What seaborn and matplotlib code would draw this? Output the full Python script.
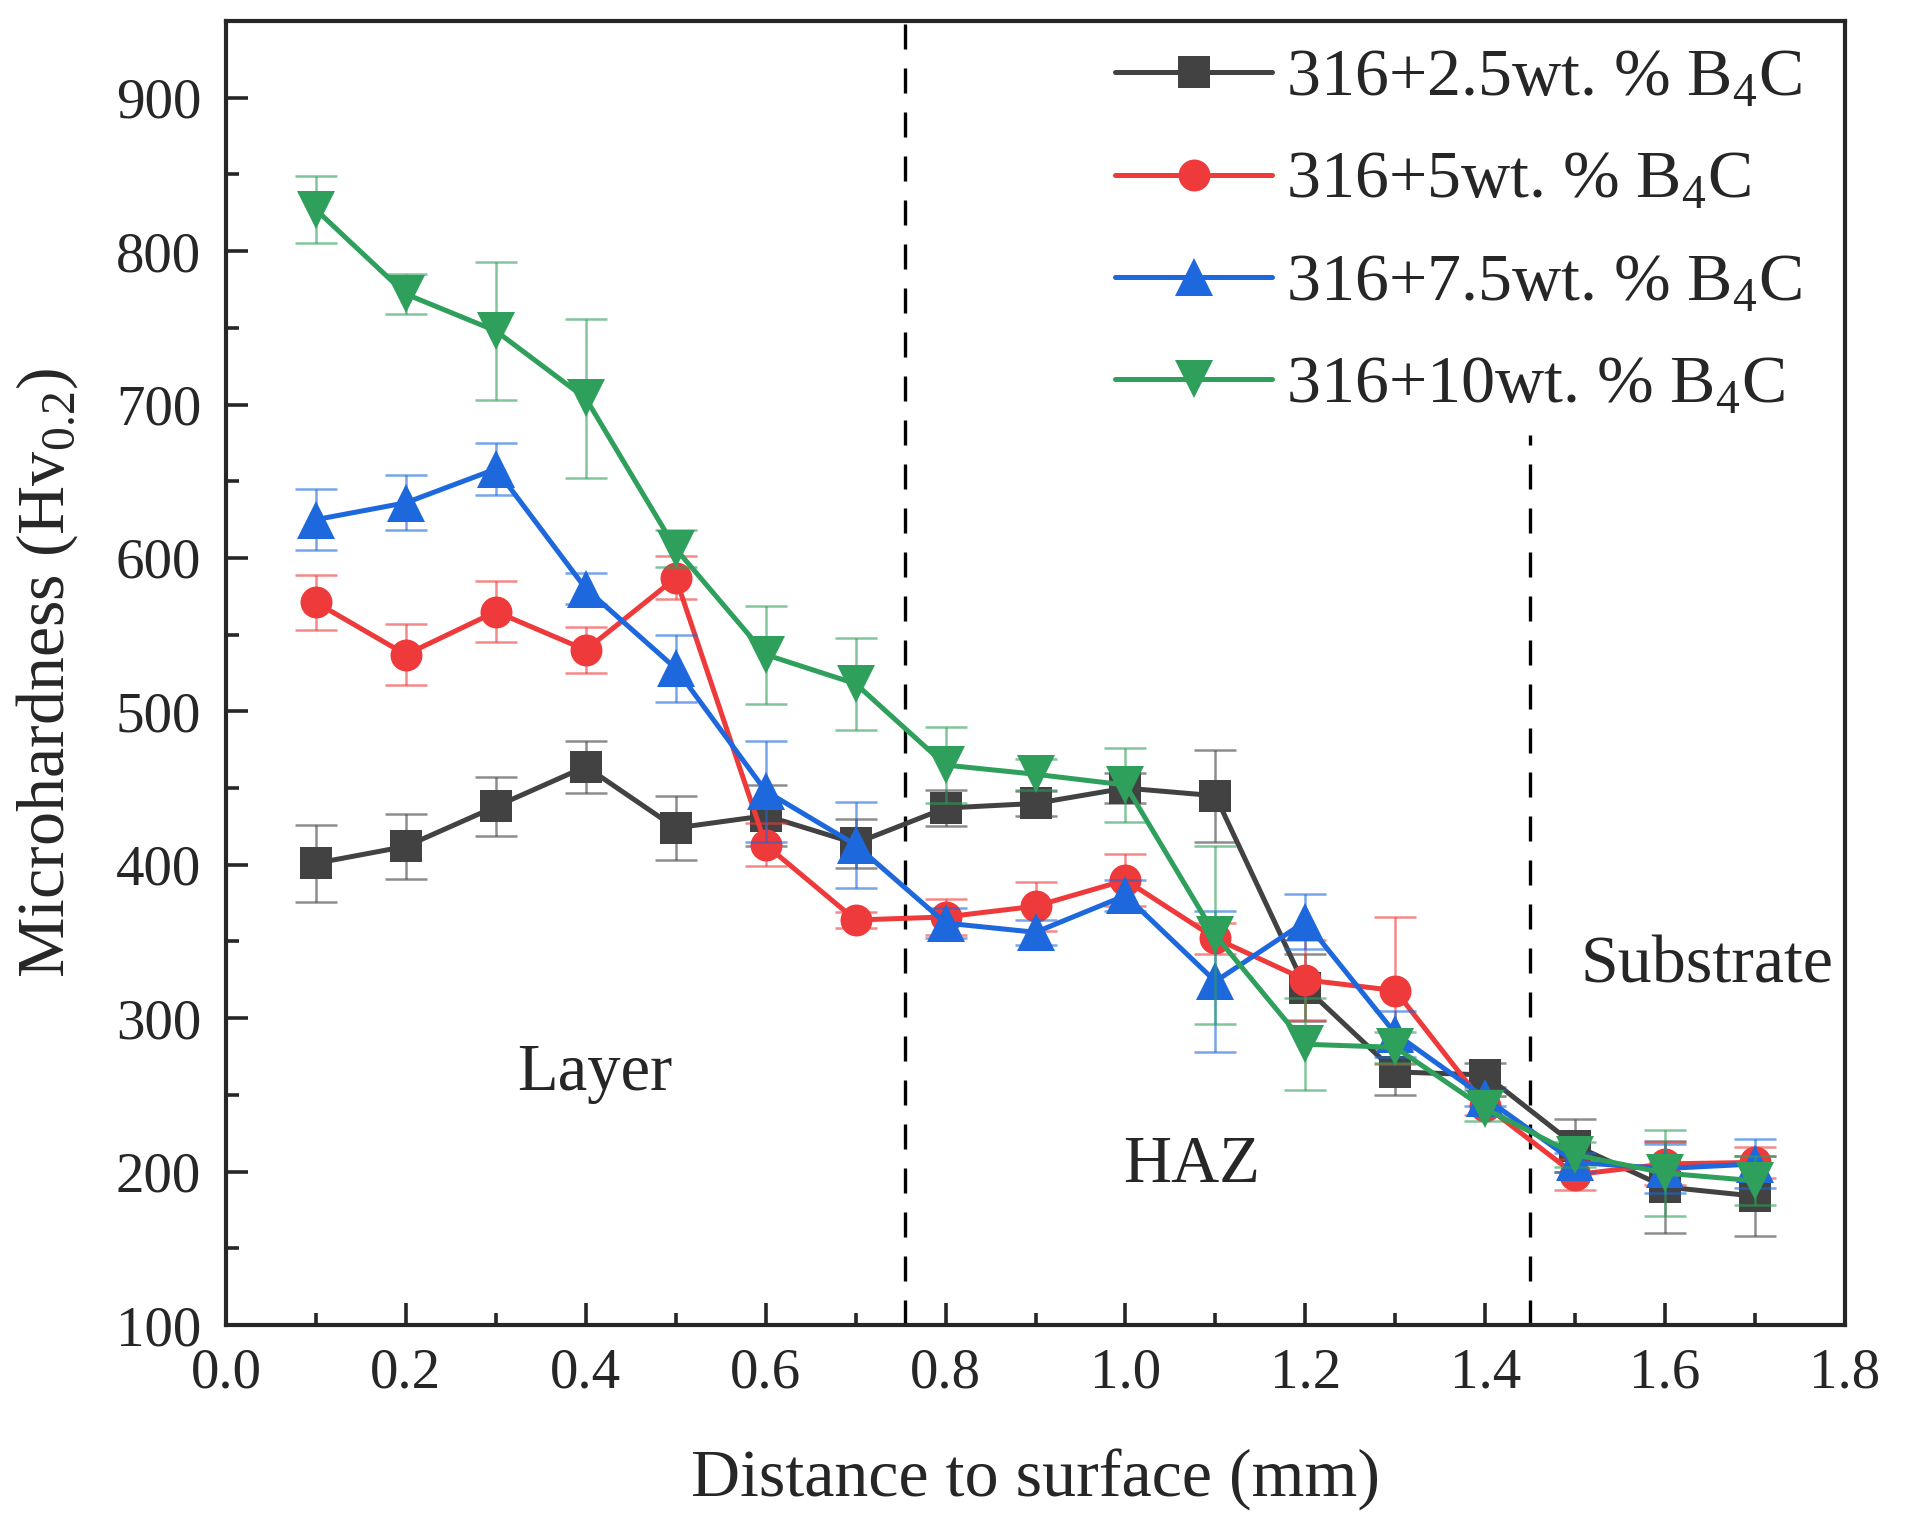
import numpy as np
import pandas as pd
import matplotlib
matplotlib.use("Agg")
import matplotlib.pyplot as plt
import seaborn as sb

# distance to surface (mm)
distance = [0.1, 0.2, 0.3, 0.4, 0.5, 0.6, 0.7, 0.8, 0.9, 1.0, 1.1, 1.2, 1.3, 1.4, 1.5, 1.6, 1.7]

# microhardness values
hv_25 = [401, 412, 438, 464, 424, 432, 414, 437, 440, 450, 445, 320, 265, 263, 217, 190, 184]
hv_5 = [571, 537, 565, 540, 587, 413, 364, 366, 373, 390, 352, 325, 318, 243, 198, 205, 206]
hv_75 = [625, 636, 658, 580, 528, 448, 413, 362, 356, 380, 324, 363, 290, 248, 206, 202, 205]
hv_10 = [827, 772, 748, 704, 606, 537, 518, 465, 459, 452, 354, 283, 281, 241, 211, 199, 194]

# error bars (half-width)
err_25 = [25, 21, 19, 17, 21, 20, 16, 12, 8, 10, 30, 22, 15, 8, 17, 30, 26]
err_5 = [18, 20, 20, 15, 14, 14, 5, 12, 16, 17, 10, 26, 48, 6, 10, 14, 10]
err_75 = [20, 18, 17, 10, 22, 33, 28, 10, 8, 10, 46, 18, 15, 5, 6, 16, 16]
err_10 = [22, 13, 45, 52, 12, 32, 30, 25, 10, 24, 58, 30, 10, 8, 8, 28, 16]

labels = ["316+2.5wt. % B$_\\mathregular{4}$C", "316+5wt. % B$_\\mathregular{4}$C",
          "316+7.5wt. % B$_\\mathregular{4}$C", "316+10wt. % B$_\\mathregular{4}$C"]
colors = ["#424242", "#ee3a3a", "#1c68dc", "#2f9f5c"]
markers = ["s", "o", "^", "v"]

sb.set_style("ticks")
plt.rcParams['font.family'] = ['Liberation Serif', 'DejaVu Serif']
plt.rcParams['mathtext.fontset'] = 'custom'
plt.rcParams['mathtext.rm'] = 'Liberation Serif'

fig = plt.figure(figsize=(19.09, 15.35), dpi=100)
ax = fig.add_axes([0.1184, 0.1368, 0.8481, 0.8495])

series = [hv_25, hv_5, hv_75, hv_10]
errors = [err_25, err_5, err_75, err_10]
for i, (vals, errs) in enumerate(zip(series, errors)):
    df = pd.DataFrame({"Distance": distance, "Hv": vals})
    ax.errorbar(distance, vals, yerr=errs, fmt="none", ecolor=colors[i],
                elinewidth=1.8, capsize=15, capthick=1.8, alpha=0.6, zorder=2 + i)
    sb.lineplot(data=df, x="Distance", y="Hv", color=colors[i], marker=markers[i],
                markersize=27 if markers[i] in ("^", "v") else 23,
                markeredgewidth=0, linewidth=3.6, label=labels[i], ax=ax, zorder=3 + i)

# region boundaries
ax.axvline(0.755, color="black", linestyle=(0, (7.5, 5.7)), linewidth=2.4, zorder=1)
ax.plot([1.45, 1.45], [100, 680], color="black", linestyle=(0, (7.5, 5.7)), linewidth=2.4, zorder=1)

ax.text(0.41, 264, "Layer", fontsize=48, ha="center", va="center")
ax.text(1.074, 204, "HAZ", fontsize=48, ha="center", va="center")
ax.text(1.647, 334, "Substrate", fontsize=49, ha="center", va="center")

ax.set_xlim(0, 1.8)
ax.set_ylim(100, 950)
ax.set_xticks(np.arange(0, 1.81, 0.2))
ax.set_yticks(np.arange(100, 901, 100))
ax.set_xticks(np.arange(0.1, 1.8, 0.2), minor=True)
ax.set_yticks(np.arange(150, 950, 100), minor=True)
ax.xaxis.set_major_formatter(matplotlib.ticker.FormatStrFormatter('%.1f'))
ax.tick_params(axis="both", which="major", direction="in", length=16, width=2.6,
               labelsize=41)
ax.tick_params(axis="x", which="major", pad=16)
ax.tick_params(axis="y", which="major", pad=18)
ax.tick_params(axis="both", which="minor", direction="in", length=9, width=2.6)

for s in ax.spines.values():
    s.set_linewidth(3)

ax.set_xlabel("Distance to surface (mm)", fontsize=49, labelpad=36)
ax.set_ylabel("Microhardness (Hv$_{\\mathregular{0.2}}$)", fontsize=49, labelpad=26)

ax.legend(loc="upper right", frameon=False, fontsize=49, handlelength=2.3,
          handletextpad=0.2, labelspacing=0.6, borderaxespad=0.0,
          bbox_to_anchor=(0.99, 1.0))

fig.savefig("out.png", dpi=100)
